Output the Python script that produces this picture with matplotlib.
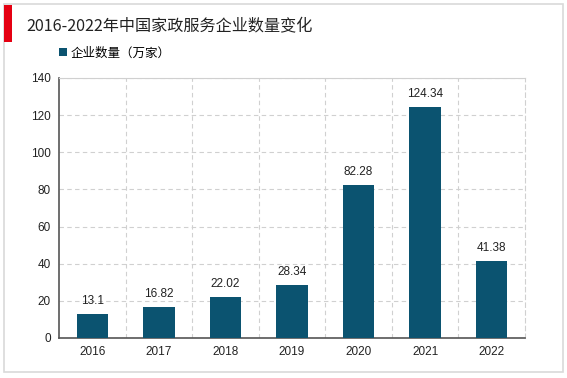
import numpy as np
import matplotlib.pyplot as plt
from matplotlib.patches import Rectangle

plt.rcParams['font.family'] = ['Noto Sans CJK SC', 'DejaVu Sans']

years = ['2016', '2017', '2018', '2019', '2020', '2021', '2022']
counts = [13.1, 16.82, 22.02, 28.34, 82.28, 124.34, 41.38]
labels = ['13.1', '16.82', '22.02', '28.34', '82.28', '124.34', '41.38']

title = '2016-2022年中国家政服务企业数量变化'
legend_name = '企业数量（万家）'
bar_color = '#0b5370'
num_font = ['Liberation Sans', 'DejaVu Sans']

fig = plt.figure(figsize=(5.67, 3.78), dpi=100)

# cornice esterna e barra rossa del titolo
fig.patches.append(Rectangle((4 / 567, 6 / 378), 559 / 567, 368 / 378, transform=fig.transFigure,
                             fill=False, edgecolor='#d9d9d9', linewidth=1.2))
fig.patches.append(Rectangle((4 / 567, 336 / 378), 8 / 567, 37 / 378, transform=fig.transFigure,
                             facecolor='#e50012', edgecolor='none'))
fig.text(26 / 567, 1 - 27 / 378, title, fontsize=11.6, color='#222222', va='center', ha='left')

ax = fig.add_axes([59 / 567, 40 / 378, 466 / 567, 260 / 378])
x = np.arange(len(years))
bars = ax.bar(x, counts, width=0.47, color=bar_color, label=legend_name, zorder=3)

for xi, v, t in zip(x, counts, labels):
    ax.annotate(t, (xi, v), xytext=(0, 5), textcoords='offset points',
                ha='center', va='bottom', fontsize=8.5, color='#222222', family=num_font)

ax.set_xlim(-0.5, len(years) - 0.5)
ax.set_ylim(0, 140)
ax.set_yticks(range(0, 141, 20))
ax.set_xticks(x)
ax.set_xticklabels(years)
ax.tick_params(axis='both', length=0, labelsize=8.5, colors='#222222', pad=6)
for lab in ax.get_xticklabels() + ax.get_yticklabels():
    lab.set_family(num_font)

# griglia tratteggiata: verticali tra le categorie
ax.set_xticks(np.arange(0.5, len(years) - 0.5, 1), minor=True)
ax.tick_params(axis='x', which='minor', length=0)
ax.grid(axis='y', which='major', linestyle=(0, (4, 3)), color='#d0d0d0', linewidth=0.8, zorder=0)
ax.grid(axis='x', which='minor', linestyle=(0, (4, 3)), color='#d0d0d0', linewidth=0.8, zorder=0)

ax.spines['left'].set_color('#555555')
ax.spines['bottom'].set_color('#555555')
ax.spines['left'].set_linewidth(1.2)
ax.spines['bottom'].set_linewidth(1.2)
ax.spines['top'].set_color('#d0d0d0')
ax.spines['top'].set_linewidth(0.8)
ax.spines['right'].set_color('#d0d0d0')
ax.spines['right'].set_linestyle((0, (4, 3)))
ax.spines['right'].set_linewidth(0.8)

ax.legend(loc='upper left', bbox_to_anchor=(-0.01, 1.14), frameon=False, fontsize=9,
          handlelength=0.6, handleheight=0.6, handletextpad=0.3, borderaxespad=0)

fig.savefig('out.png', dpi=100)
